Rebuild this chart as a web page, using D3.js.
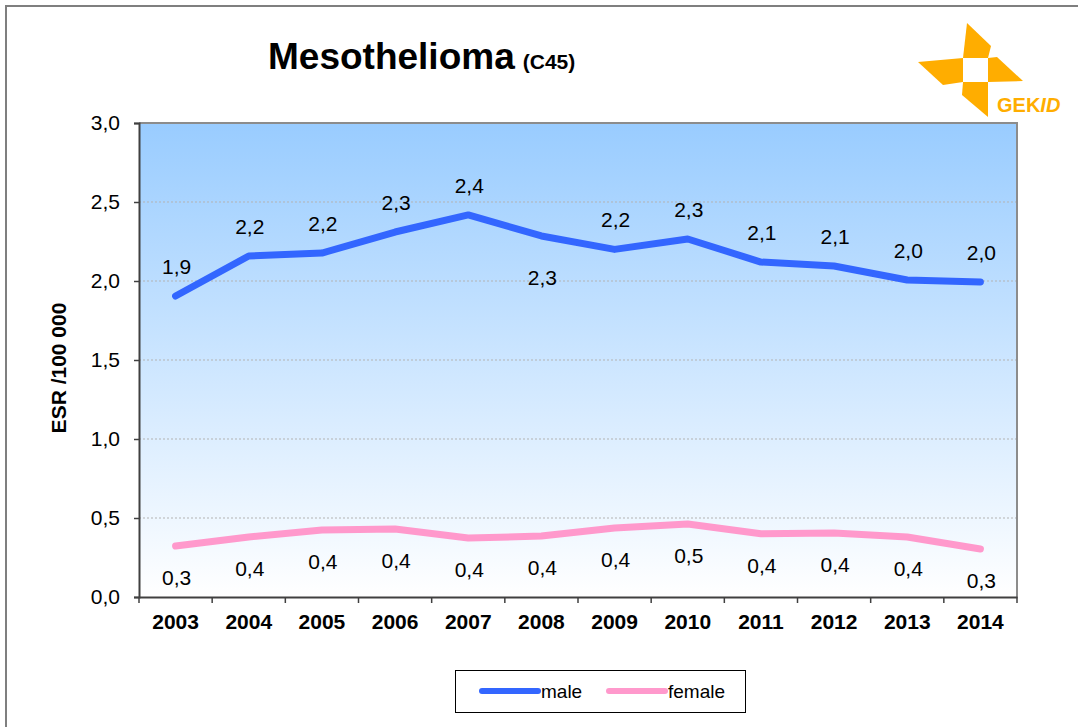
<!DOCTYPE html>
<html>
<head>
<meta charset="utf-8">
<script src="https://cdn.jsdelivr.net/npm/d3@7"></script>
<style>
  body { margin: 0; background: #fff; }
  svg text { font-family: "Liberation Sans", Arial, sans-serif; }
</style>
</head>
<body>
<svg id="viz" width="1078" height="727"></svg>
<script>
// data (ESR per 100 000)
var years = ["2003","2004","2005","2006","2007","2008","2009","2010","2011","2012","2013","2014"]
var male = [1.905, 2.158, 2.177, 2.31, 2.418, 2.285, 2.20, 2.266, 2.12, 2.095, 2.006, 1.994]
var female = [0.323, 0.38, 0.424, 0.43, 0.373, 0.386, 0.437, 0.462, 0.40, 0.405, 0.38, 0.304]
var yTicks = [0, 0.5, 1.0, 1.5, 2.0, 2.5, 3.0]
var maleLabelsBelow = ["2008"]

var svg = d3.select("#viz")
var pL = 139, pR = 1017, pT = 123, pB = 597

var x = d3.scaleBand().domain(years).range([pL, pR])
var y = d3.scaleLinear().domain([0, 3]).range([pB, pT])
var fmt = function(v){ return d3.format(".1f")(v).replace(".", ",") }

// outer frame
svg.append("path")
  .attr("d", "M6,727 V6 H1078")
  .attr("fill", "none")
  .attr("stroke", "#7f7f7f")
  .attr("stroke-width", 2)

// background gradient
var defs = svg.append("defs")
var grad = defs.append("linearGradient").attr("id", "bg").attr("x1", 0).attr("y1", 0).attr("x2", 0).attr("y2", 1)
grad.append("stop").attr("offset", "0%").attr("stop-color", "#99ccff")
grad.append("stop").attr("offset", "100%").attr("stop-color", "#ffffff")

svg.append("rect")
  .attr("x", pL).attr("y", pT)
  .attr("width", pR - pL).attr("height", pB - pT)
  .attr("fill", "url(#bg)")

// grid lines
svg.selectAll(".grid")
  .data(yTicks.filter(function(d){ return d > 0 && d < 3 }))
  .enter().append("line")
  .attr("class", "grid")
  .attr("x1", pL).attr("x2", pR)
  .attr("y1", function(d){ return y(d) }).attr("y2", function(d){ return y(d) })
  .attr("stroke", "#b3b3b3")
  .attr("stroke-width", 1)
  .attr("stroke-dasharray", "2,2")

// plot frame top/right
svg.append("path")
  .attr("d", "M" + pL + "," + pT + " H" + pR + " V" + pB)
  .attr("fill", "none")
  .attr("stroke", "#8c8c8c")
  .attr("stroke-width", 2)

// axes
var yAxis = svg.append("g")
  .attr("transform", "translate(" + pL + ",0)")
  .call(d3.axisLeft(y).tickValues(yTicks).tickFormat(fmt).tickSize(5).tickPadding(14))
var xAxis = svg.append("g")
  .attr("transform", "translate(0," + pB + ")")
  .call(d3.axisBottom(x).tickSize(0).tickPadding(17))

// x ticks on band edges
svg.selectAll(".xtick")
  .data(years.concat(["end"]))
  .enter().append("line")
  .attr("x1", function(d, i){ return pL + i * x.step() })
  .attr("x2", function(d, i){ return pL + i * x.step() })
  .attr("y1", pB).attr("y2", pB + 6)
  .attr("stroke", "#404040").attr("stroke-width", 1.5)

;[yAxis, xAxis].forEach(function(g){
  g.select(".domain").attr("stroke", "#404040").attr("stroke-width", 2)
  g.selectAll(".tick line").attr("stroke", "#404040").attr("stroke-width", 1.5)
  g.selectAll("text").attr("fill", "#000").style("font-family", "Liberation Sans, Arial, sans-serif")
})
yAxis.selectAll("text").style("font-size", "21px")
xAxis.selectAll("text").style("font-size", "21px").style("font-weight", "bold")

// y axis title
svg.append("text")
  .attr("transform", "translate(66,368) rotate(-90)")
  .attr("text-anchor", "middle")
  .style("font-size", "21px")
  .style("font-weight", "bold")
  .text("ESR /100 000")

// lines
var line = d3.line()
  .x(function(d, i){ return x(years[i]) + x.bandwidth() / 2 })
  .y(function(d){ return y(d) })

svg.append("path").datum(male)
  .attr("d", line)
  .attr("fill", "none").attr("stroke", "#3366ff").attr("stroke-width", 7)
  .attr("stroke-linecap", "round").attr("stroke-linejoin", "round")

svg.append("path").datum(female)
  .attr("d", line)
  .attr("fill", "none").attr("stroke", "#ff99cc").attr("stroke-width", 7)
  .attr("stroke-linecap", "round").attr("stroke-linejoin", "round")

// data labels
svg.selectAll(".mlab")
  .data(male)
  .enter().append("text")
  .attr("class", "mlab")
  .attr("x", function(d, i){ return x(years[i]) + x.bandwidth() / 2 + 1 })
  .attr("y", function(d, i){ return y(d) + (maleLabelsBelow.indexOf(years[i]) >= 0 ? 42 : -29) + 7 })
  .attr("text-anchor", "middle")
  .style("font-size", "21px")
  .text(fmt)

svg.selectAll(".flab")
  .data(female)
  .enter().append("text")
  .attr("class", "flab")
  .attr("x", function(d, i){ return x(years[i]) + x.bandwidth() / 2 + 1 })
  .attr("y", function(d){ return y(d) + 32 + 7 })
  .attr("text-anchor", "middle")
  .style("font-size", "21px")
  .text(fmt)

// title
var title = svg.append("text").attr("x", 268).attr("y", 69)
title.append("tspan").style("font-size", "37px").style("font-weight", "bold").text("Mesothelioma")
title.append("tspan").attr("dx", 8).style("font-size", "21px").style("font-weight", "bold").text("(C45)")

// GEKID logo
var logo = svg.append("g").attr("fill", "#ffad00")
var blades = [
  [[967,23],[991,46],[988,58],[963,58]],
  [[988,58],[997,57],[1023,81],[988,82]],
  [[963,82],[988,82],[988,117],[962,95]],
  [[918,62],[963,58],[963,82],[943,85]]
]
blades.forEach(function(b){
  logo.append("polygon").attr("points", b.map(function(p){ return p.join(",") }).join(" "))
})
var lt = logo.append("text").attr("x", 997).attr("y", 112)
  .style("font-size", "20px").style("font-weight", "bold")
lt.append("tspan").text("GEK")
lt.append("tspan").style("font-style", "italic").text("ID")

// legend
var lg = svg.append("g")
lg.append("rect").attr("x", 455.5).attr("y", 670.5).attr("width", 290).attr("height", 42)
  .attr("fill", "#fff").attr("stroke", "#000").attr("stroke-width", 1)
var series = [{name: "male", color: "#3366ff", x: 482}, {name: "female", color: "#ff99cc", x: 609}]
series.forEach(function(s){
  lg.append("line").attr("x1", s.x).attr("x2", s.x + 56).attr("y1", 691).attr("y2", 691)
    .attr("stroke", s.color).attr("stroke-width", 6).attr("stroke-linecap", "round")
  lg.append("text").attr("x", s.x + 59).attr("y", 698).style("font-size", "19px").text(s.name)
})
</script>
</body>
</html>
